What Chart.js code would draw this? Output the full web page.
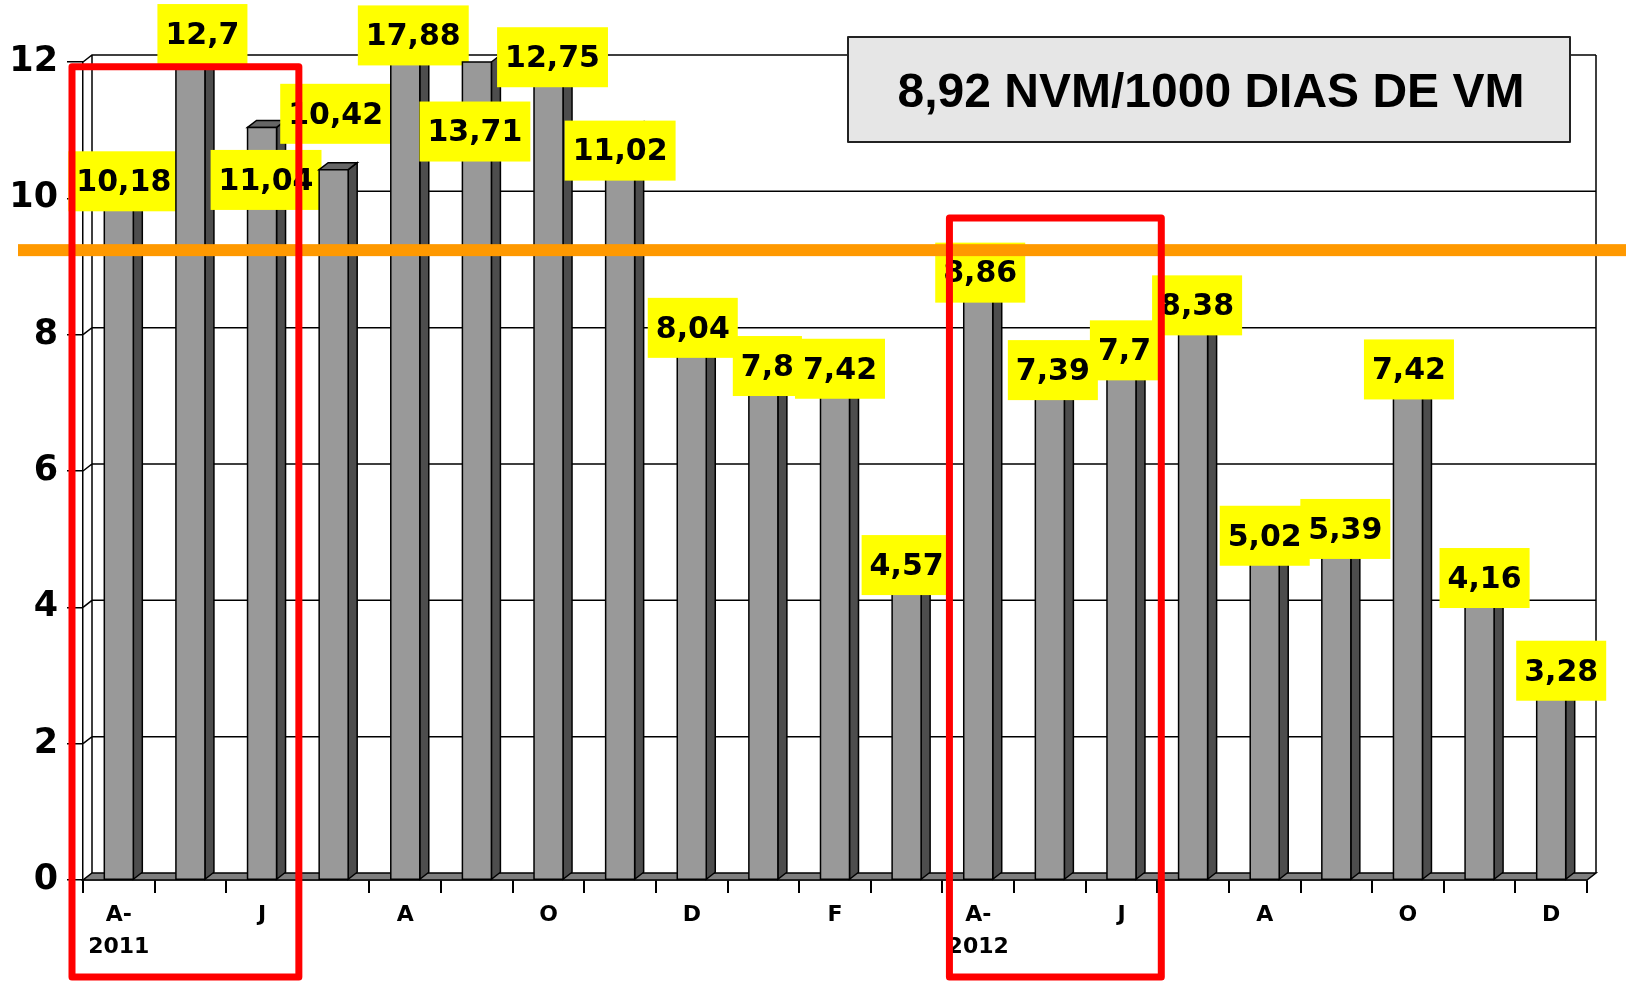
<!DOCTYPE html>
<html>
<head>
  <title>NVM / 1000 dias de VM</title>
  <script src="https://cdn.jsdelivr.net/npm/chart.js"></script>
  <style>
    body { margin: 0; background: #fff; }
    canvas { display: block; }
  </style>
</head>
<body>
  <canvas id="nvmChart" width="1626" height="981"></canvas>

  <script>
    // abr/2011 .. dez/2012
    const months = ["abr-2011", "mai", "jun", "jul", "ago", "set", "out", "nov", "dez", "jan", "fev", "mar",
                    "abr-2012", "mai", "jun", "jul", "ago", "set", "out", "nov", "dez"];
    const tickLabels = [["A-", "2011"], "", "J", "", "A", "", "O", "", "D", "", "F", "",
                        ["A-", "2012"], "", "J", "", "A", "", "O", "", "D"];
    const rates = [10.18, 12.7, 11.04, 10.42, 17.88, 13.71, 12.75, 11.02, 8.04, 7.8, 7.42, 4.57,
                   8.86, 7.39, 7.7, 8.38, 5.02, 5.39, 7.42, 4.16, 3.28];
    const yTicks = [0, 2, 4, 6, 8, 10, 12];
    const goal = 9.24;
    const summary = "8,92 NVM/1000 DIAS DE VM";
    const highlights = [[0, 2], [12, 14]];

    // onde fica cada etiqueta amarela (y em unidades do eixo, x em px a partir da barra)
    const labelAt = [10.25, 12.41, 10.27, 11.24, 12.39, 10.98, 12.07, 10.7, 8.1, 7.54, 7.5, 4.62,
                     8.91, 7.48, 7.77, 8.43, 5.05, 5.15, 7.49, 4.43, 3.07];
    const labelDx = [5, 12, 4, 2, 8, -2, 4, 0, 1, 4, 5, 0, 2, 3, 3, 4, 0, 9, 1, 5, 10];

    const DX = 9, DY = 7; // profundidade do "3D"
    const numFont = "bold 30px 'DejaVu Sans'";

    function poly(ctx, pts, fill) {
      ctx.beginPath();
      ctx.moveTo(pts[0][0], pts[0][1]);
      for (let i = 1; i < pts.length; i++) ctx.lineTo(pts[i][0], pts[i][1]);
      ctx.closePath();
      ctx.fillStyle = fill;
      ctx.fill();
      ctx.stroke();
    }

    const wallPlugin = {
      id: "wall",
      beforeDatasetsDraw(chart) {
        const { ctx, chartArea: a, scales: { y } } = chart;
        ctx.save();
        ctx.strokeStyle = "#000";
        ctx.lineWidth = 1.5;
        // chao
        const y0 = y.getPixelForValue(0);
        poly(ctx, [[a.left, y0], [a.right, y0], [a.right + DX, y0 - DY], [a.left + DX, y0 - DY]], "#7f7f7f");
        // linhas da grade na parede do fundo
        ctx.beginPath();
        yTicks.forEach(v => {
          if (v === 0) return;
          const py = y.getPixelForValue(v);
          ctx.moveTo(a.left, py);
          ctx.lineTo(a.left + DX, py - DY);
          ctx.lineTo(a.right + DX, py - DY);
        });
        const yt = y.getPixelForValue(12);
        ctx.moveTo(a.left + DX, yt - DY);
        ctx.lineTo(a.left + DX, y0 - DY);
        ctx.moveTo(a.right + DX, yt - DY);
        ctx.lineTo(a.right + DX, y0 - DY);
        ctx.stroke();
        ctx.restore();
      }
    };

    const barsPlugin = {
      id: "bars3d",
      afterDatasetsDraw(chart) {
        const { ctx, chartArea: a, scales: { y } } = chart;
        const meta = chart.getDatasetMeta(0);
        ctx.save();
        ctx.lineWidth = 1.5;
        ctx.strokeStyle = "#000";
        meta.data.forEach((bar, i) => {
          const w = bar.width;
          const l = bar.x - w / 2, r = bar.x + w / 2;
          const clipped = bar.y < a.top;
          const t = Math.max(bar.y, a.top);
          const b = bar.base;
          // lado
          poly(ctx, [[r, t], [r + DX, t - DY], [r + DX, b - DY], [r, b]], "#4d4d4d");
          // topo
          if (!clipped) poly(ctx, [[l, t], [l + DX, t - DY], [r + DX, t - DY], [r, t]], "#666666");
          // frente
          poly(ctx, [[l, t], [r, t], [r, b], [l, b]], "#999999");

          // etiqueta
          const txt = String(rates[i]).replace(".", ",");
          ctx.font = numFont;
          const tw = ctx.measureText(txt).width;
          const cx = bar.x + labelDx[i];
          const cy = y.getPixelForValue(labelAt[i]);
          ctx.fillStyle = "#ffff00";
          ctx.fillRect(cx - tw / 2 - 8, cy - 30, tw + 16, 60);
          ctx.fillStyle = "#000";
          ctx.textAlign = "center";
          ctx.textBaseline = "middle";
          ctx.fillText(txt, cx, cy + 2);
        });
        ctx.restore();
      },
      afterDraw(chart) {
        const { ctx, chartArea: a, scales: { x, y } } = chart;
        const cw = (a.right - a.left) / months.length;
        ctx.save();

        // linha da meta
        ctx.fillStyle = "#ff9900";
        const gy = y.getPixelForValue(goal);
        ctx.fillRect(18, gy - 6, chart.width - 18, 12);

        // retangulos vermelhos
        ctx.strokeStyle = "#ff0000";
        ctx.lineWidth = 7;
        ctx.lineJoin = "round";
        const tops = [11.93, 9.71];
        highlights.forEach(([from, to], k) => {
          const left = x.getPixelForValue(from) - cw / 2 + (k === 0 ? -11 : 7);
          const right = x.getPixelForValue(to) + cw / 2 + (k === 0 ? 1 : 4);
          const top = y.getPixelForValue(tops[k]);
          ctx.strokeRect(left, top, right - left, 977 - top);
        });

        // caixa com o resumo
        ctx.fillStyle = "#e6e6e6";
        ctx.strokeStyle = "#222";
        ctx.lineWidth = 2;
        ctx.fillRect(848, 37, 722, 105);
        ctx.strokeRect(848, 37, 722, 105);
        ctx.fillStyle = "#000";
        ctx.font = "bold 48px 'Liberation Sans', Arial";
        ctx.textAlign = "center";
        ctx.textBaseline = "alphabetic";
        ctx.fillText(summary, 1211, 107);
        ctx.restore();
      }
    };

    new Chart(document.getElementById("nvmChart"), {
      type: "bar",
      data: {
        labels: months,
        datasets: [{
          data: rates,
          backgroundColor: "rgba(0,0,0,0)",
          borderWidth: 0,
          barPercentage: 0.405,
          categoryPercentage: 1.0
        }]
      },
      options: {
        responsive: false,
        animation: false,
        layout: { padding: { top: 62, right: 39, left: 0, bottom: 0 } },
        plugins: {
          legend: { display: false },
          tooltip: { enabled: false },
          title: { display: false }
        },
        scales: {
          x: {
            afterFit: s => { s.height = 101; },
            grid: { offset: true, drawOnChartArea: false, tickLength: 13, color: "#000", lineWidth: 2 },
            border: { display: true, color: "#000", width: 1.5 },
            ticks: {
              autoSkip: false,
              maxRotation: 0,
              padding: 7,
              color: "#000",
              font: { family: "DejaVu Sans", weight: "bold", size: 22, lineHeight: 1.43 },
              callback: (v, i) => tickLabels[i]
            }
          },
          y: {
            min: 0,
            max: 12,
            afterFit: s => { s.width = 83; },
            afterBuildTicks: s => { s.ticks = yTicks.map(v => ({ value: v })); },
            grid: { drawOnChartArea: false, tickLength: 16, color: "#000", lineWidth: 1.5 },
            border: { display: true, color: "#000", width: 1.5 },
            ticks: {
              padding: 9,
              color: "#000",
              font: { family: "DejaVu Sans", weight: "bold", size: 35 }
            }
          }
        }
      },
      plugins: [wallPlugin, barsPlugin]
    });
  </script>
</body>
</html>
